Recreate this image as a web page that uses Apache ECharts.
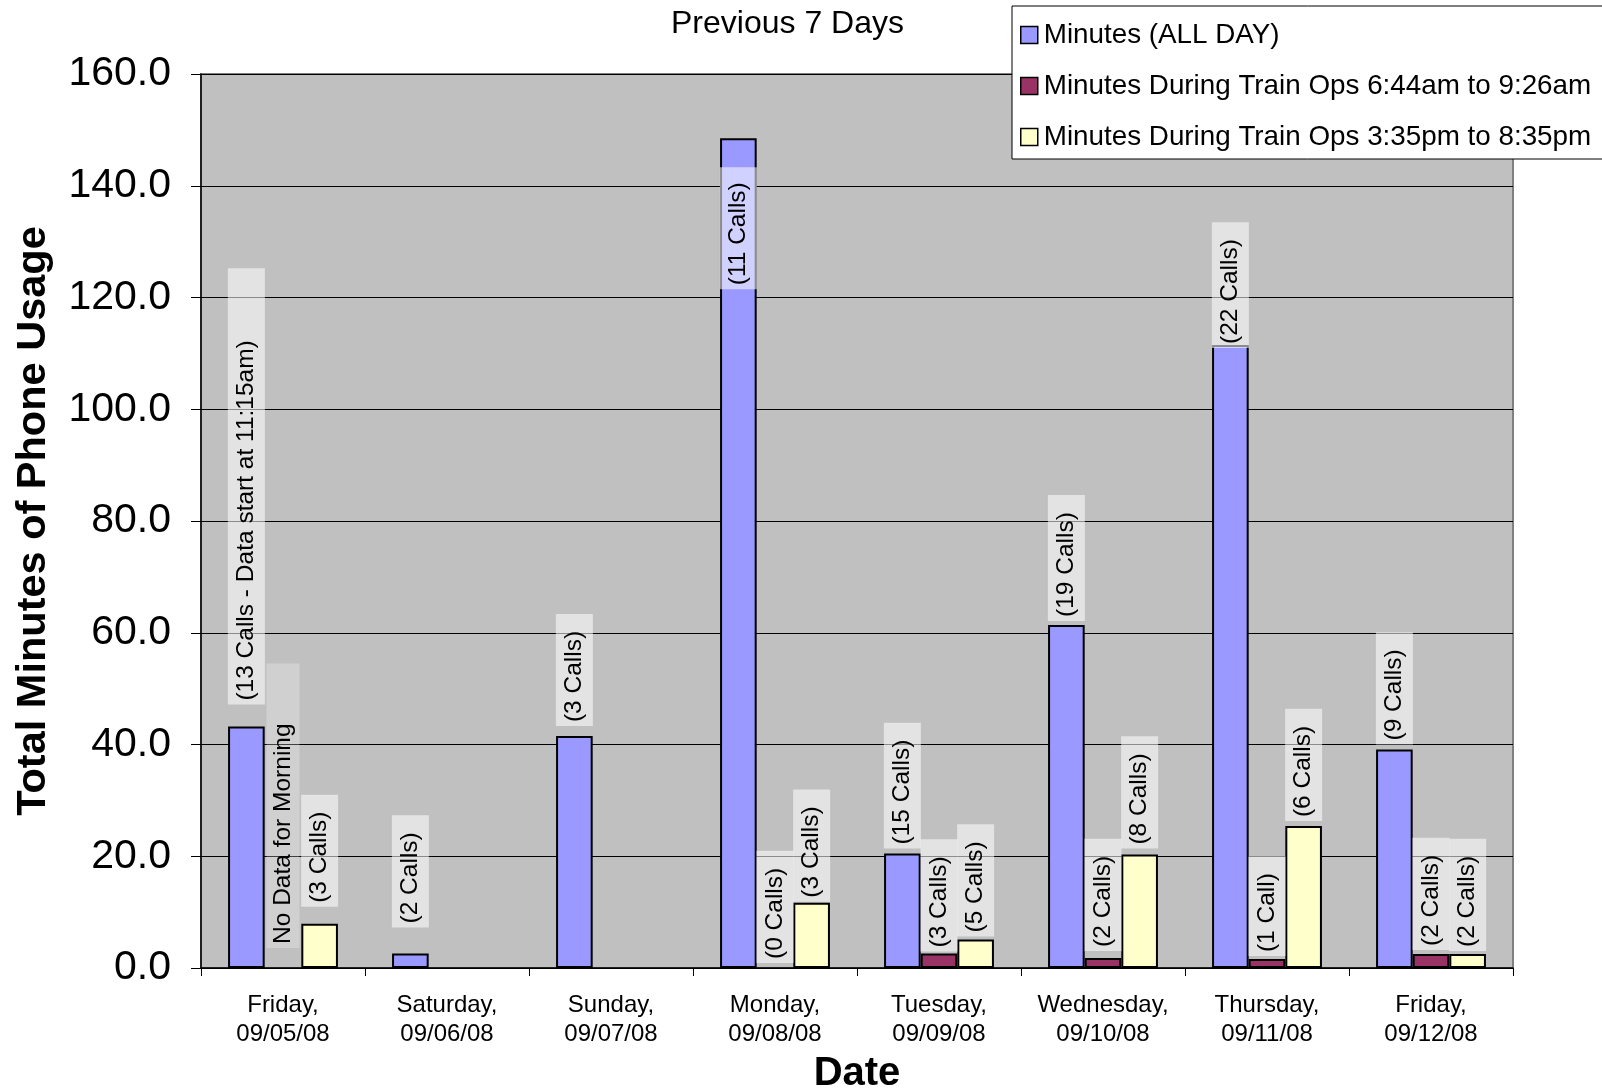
<!DOCTYPE html>
<html>
<head>
<meta charset="utf-8">
<script src="https://cdn.jsdelivr.net/npm/echarts@6/dist/echarts.min.js"></script>
<style>
html,body{margin:0;padding:0;background:#fff;}
#chart{width:1602px;height:1090px;}
</style>
</head>
<body>
<div id="chart"></div>
<script>
const categories = ['Friday,\n09/05/08','Saturday,\n09/06/08','Sunday,\n09/07/08','Monday,\n09/08/08','Tuesday,\n09/09/08','Wednesday,\n09/10/08','Thursday,\n09/11/08','Friday,\n09/12/08'];
const seriesNames = ['Minutes (ALL DAY)','Minutes During Train Ops 6:44am to 9:26am','Minutes During Train Ops 3:35pm to 8:35pm'];
const allDay = [43.2, 2.6, 41.5, 148.5, 20.5, 61.4, 111.5, 39.1];
const morning = [0, null, null, 0, 2.6, 1.8, 1.6, 2.5];
const evening = [7.9, null, null, 11.7, 5.1, 20.3, 25.4, 2.5];
const allDayLabels = ['(13 Calls - Data start at 11:15am)','(2 Calls)','(3 Calls)','(11 Calls)','(15 Calls)','(19 Calls)','(22 Calls)','(9 Calls)'];
const morningLabels = ['No Data for Morning','','','(0 Calls)','(3 Calls)','(2 Calls)','(1 Call)','(2 Calls)'];
const eveningLabels = ['(3 Calls)','','','(3 Calls)','(5 Calls)','(8 Calls)','(6 Calls)','(2 Calls)'];
const yTicks = {min: 0, max: 160, interval: 20};

// ---- label styling (gap between bar top and label box, in px) ----
const FONT = "'Liberation Sans', Arial, sans-serif";
const labelGapStyle = [
  [22, 26, 10, 35, 5, 4, -3, 5],
  [20, 0, 0, 5, 2, 7, 3, 4],
  [17, 0, 0, 1, 3, 6, 5, 3]
];
const baseLabel = {
  show: true,
  position: 'top',
  distance: 5,
  rotate: 90,
  align: 'left',
  verticalAlign: 'middle',
  fontFamily: FONT,
  fontSize: 24.5,
  lineHeight: 25,
  color: '#000',
  backgroundColor: 'rgba(255,255,255,0.55)',
  padding: [6, 17, 6, 4]
};

function buildData(values, labels, gaps, insideIdx) {
  return values.map(function (v, i) {
    if (v === null) return {value: null, label: {show: false}};
    const item = {value: v, label: {formatter: labels[i], distance: gaps[i]}};
    if (v === 0) item.itemStyle = {borderWidth: 0, color: 'transparent'};
    if (labels[i] === 'No Data for Morning') {
      item.label.backgroundColor = 'rgba(255,255,255,0.25)';
      item.label.padding = [4, 60, 4, 4];
    }
    if (labels[i].indexOf('Data start') >= 0) item.label.padding = [6, 72, 6, 4];
    if (insideIdx !== undefined && i === insideIdx) {
      item.label.position = 'insideTop';
      item.label.align = 'right';
      item.label.offset = [6, 0];
      item.label.padding = [6, 15, 6, 4];
    }
    return item;
  });
}

const colors = ['#9999FF', '#993366', '#FFFFCC'];
const chart = echarts.init(document.getElementById('chart'));
chart.setOption({
  animation: false,
  title: {
    text: 'Previous 7 Days',
    left: 671, top: 8, padding: 0,
    textStyle: {fontFamily: FONT, fontSize: 32, fontWeight: 'normal', color: '#000'}
  },
  legend: {
    orient: 'vertical',
    left: 1012, top: 6,
    padding: [15, 12, 8, 8],
    itemGap: 23,
    itemWidth: 17, itemHeight: 17,
    icon: 'rect',
    backgroundColor: '#fff',
    borderColor: '#000', borderWidth: 1,
    z: 10,
    itemStyle: {borderColor: '#000', borderWidth: 1.5},
    textStyle: {fontFamily: FONT, fontSize: 27.8, color: '#000', padding: [0, 0, 0, 1]},
    data: seriesNames
  },
  grid: {
    left: 201, right: 89, top: 74, bottom: 122,
    outerBoundsMode: 'none',
    containLabel: false,
    show: true, backgroundColor: '#C0C0C0', borderColor: '#808080', borderWidth: 2
  },
  xAxis: {
    type: 'category',
    data: categories,
    name: 'Date', nameLocation: 'middle', nameGap: 80,
    nameTextStyle: {fontFamily: FONT, fontSize: 40, fontWeight: 'bold', color: '#000'},
    axisLine: {lineStyle: {color: '#000', width: 1.5}},
    axisTick: {show: true, alignWithLabel: false, interval: 0, length: 8, lineStyle: {color: '#000'}},
    axisLabel: {interval: 0, fontFamily: FONT, fontSize: 24, lineHeight: 29, color: '#000', margin: 23}
  },
  yAxis: {
    type: 'value',
    min: yTicks.min, max: yTicks.max, interval: yTicks.interval,
    name: 'Total Minutes of Phone Usage', nameLocation: 'middle', nameGap: 146,
    nameTextStyle: {fontFamily: FONT, fontSize: 41.5, fontWeight: 'bold', color: '#000'},
    axisLine: {show: true, lineStyle: {color: '#000', width: 1.5}},
    axisTick: {show: true, length: 10, lineStyle: {color: '#000'}},
    axisLabel: {fontFamily: FONT, fontSize: 41, color: '#000', margin: 30,
      formatter: function (v) { return v.toFixed(1); }},
    splitLine: {show: true, lineStyle: {color: '#000', width: 1}}
  },
  series: [
    {name: seriesNames[0], type: 'bar', data: buildData(allDay, allDayLabels, labelGapStyle[0], 3),
     barGap: '0%', barCategoryGap: '33%', label: baseLabel,
     itemStyle: {color: colors[0], borderColor: '#000', borderWidth: 2}},
    {name: seriesNames[1], type: 'bar', data: buildData(morning, morningLabels, labelGapStyle[1]),
     barGap: '0%', barCategoryGap: '33%', label: baseLabel,
     itemStyle: {color: colors[1], borderColor: '#000', borderWidth: 2}},
    {name: seriesNames[2], type: 'bar', data: buildData(evening, eveningLabels, labelGapStyle[2]),
     barGap: '0%', barCategoryGap: '33%', label: baseLabel,
     itemStyle: {color: colors[2], borderColor: '#000', borderWidth: 2}}
  ]
});
</script>
</body>
</html>
